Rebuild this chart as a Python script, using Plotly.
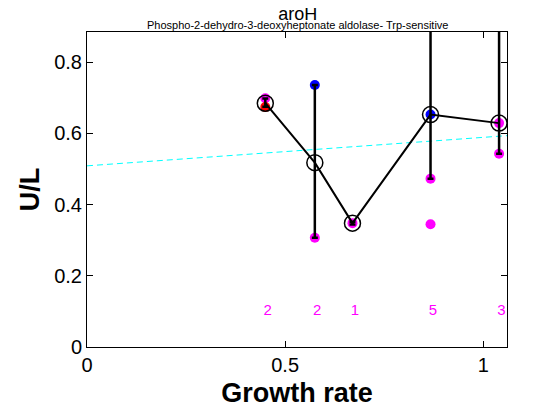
import plotly.graph_objects as go

# Individual measurements (colored dots)
pt_x = [0.450, 0.450, 0.575, 0.575, 0.670, 0.867, 0.867, 0.867, 1.040, 1.040]
pt_y = [0.699, 0.674, 0.736, 0.307, 0.348, 0.653, 0.473, 0.345, 0.629, 0.543]
pt_color = ["magenta", "red", "blue", "magenta", "magenta",
            "blue", "magenta", "magenta", "magenta", "magenta"]

# Mean values with error bars
mean_x = [0.450, 0.575, 0.670, 0.867, 1.040]
mean_y = [0.685, 0.518, 0.348, 0.653, 0.629]
err_plus = [0.013, 0.218, 0.004, 0.500, 0.500]
err_minus = [0.010, 0.211, 0.004, 0.180, 0.086]

# Sample counts shown along the bottom
counts = ["2", "2", "1", "5", "3"]
count_y = [0.1, 0.1, 0.1, 0.1, 0.1]

# Linear fit (cyan dashed)
fit_a = 0.509
fit_b = 0.080
fit_x = [0.0, 1.06]
fit_y = [fit_a + fit_b * x for x in fit_x]

font_family = "Liberation Sans, Arial"

fig = go.Figure()

fig.add_trace(go.Scatter(
    x=pt_x, y=pt_y, mode="markers",
    marker=dict(size=10, color=pt_color, line=dict(width=0)),
    hoverinfo="skip",
))

fig.add_trace(go.Scatter(
    x=fit_x, y=fit_y, mode="lines",
    line=dict(color="cyan", width=1, dash="6px,4px"),
    hoverinfo="skip",
))

fig.add_trace(go.Scatter(
    x=mean_x, y=mean_y, mode="lines+markers",
    line=dict(color="black", width=2),
    marker=dict(size=16, color="rgba(0,0,0,0)", line=dict(color="black", width=1.5)),
    error_y=dict(type="data", array=err_plus, arrayminus=err_minus,
                 color="black", thickness=2.5, width=3),
    hoverinfo="skip",
))

fig.add_trace(go.Scatter(
    x=[x + 0.006 for x in mean_x], y=count_y, mode="text",
    text=counts, textposition="middle center",
    textfont=dict(color="magenta", size=15, family=font_family),
    hoverinfo="skip",
))

axis_common = dict(
    showline=True, linecolor="black", linewidth=1, mirror="ticks",
    ticks="inside", ticklen=6, tickcolor="black", showgrid=False, zeroline=False,
    automargin=False,
    tickfont=dict(size=20, color="black", family=font_family),
)

title_text = ("<span style='font-size:18px'>aroH</span><br>"
              "<span style='font-size:11px'>Phospho-2-dehydro-3-deoxyheptonate "
              "aldolase- Trp-sensitive</span>")

# the page adds an 8px offset, so margins are shifted to compensate
fig.update_layout(
    width=560, height=420,
    margin=dict(l=79, r=61, t=24, b=81),
    plot_bgcolor="white", paper_bgcolor="white",
    showlegend=False,
    xaxis=dict(range=[0, 1.06], tickvals=[0, 0.5, 1], ticktext=["0", "0.5", "1"],
               title=dict(text="<b>Growth rate</b>", standoff=8,
                          font=dict(size=27, color="black", family=font_family)),
               **axis_common),
    yaxis=dict(range=[0, 0.885], tickvals=[0, 0.2, 0.4, 0.6, 0.8],
               ticktext=["0", "0.2", "0.4", "0.6", "0.8"],
               title=dict(text="<b>U/L</b>", standoff=6,
                          font=dict(size=27, color="black", family=font_family)),
               **axis_common),
    annotations=[
        dict(text=title_text, x=0.5, y=1.0, xref="paper", yref="paper",
             xanchor="center", yanchor="bottom", yshift=0, showarrow=False,
             borderpad=0,
             font=dict(size=7, color="black", family=font_family)),
    ],
)

fig.write_html("out.html")
